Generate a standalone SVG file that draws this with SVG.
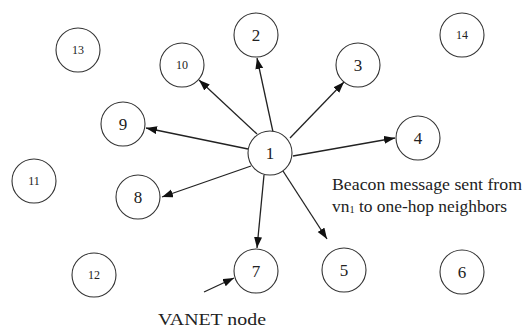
<svg xmlns="http://www.w3.org/2000/svg" width="525" height="331" viewBox="0 0 525 331">
<defs>
<marker id="ah" markerWidth="12" markerHeight="9" refX="11" refY="4" orient="auto" markerUnits="userSpaceOnUse">
<path d="M0,0 L11,4 L0,8 z" fill="#111"/>
</marker>
<style>
.n circle{fill:#fff;stroke:#333;stroke-width:1.1}
.n text{font-family:"Liberation Serif","Times New Roman",serif;fill:#222;text-anchor:middle}
.big{font-size:17px}
.small{font-size:12px}
.c line{stroke:#222;stroke-width:1.3;marker-end:url(#ah)}
.lbl{font-family:"Liberation Serif","Times New Roman",serif;font-size:17px;fill:#222}
</style>
</defs>
<g id="connectors" class="c">
<line x1="273" y1="132" x2="257" y2="58"/>
<line x1="257" y1="134" x2="199" y2="80"/>
<line x1="290" y1="138" x2="344" y2="82"/>
<line x1="248" y1="149" x2="146" y2="128"/>
<line x1="293" y1="156" x2="395" y2="138"/>
<line x1="251" y1="166" x2="162" y2="197"/>
<line x1="264" y1="175" x2="257" y2="248"/>
<line x1="283" y1="171" x2="327" y2="239"/>
<line x1="204" y1="292" x2="234" y2="278"/>
</g>
<g id="node1" class="n"><circle cx="270" cy="153" r="22"/><text class="big" x="270" y="159">1</text></g>
<g id="node2" class="n"><circle cx="256" cy="35" r="22"/><text class="big" x="256" y="41">2</text></g>
<g id="node3" class="n"><circle cx="358" cy="65" r="22"/><text class="big" x="358" y="71">3</text></g>
<g id="node4" class="n"><circle cx="418" cy="138" r="22"/><text class="big" x="418" y="144">4</text></g>
<g id="node5" class="n"><circle cx="344" cy="270" r="22"/><text class="big" x="344" y="276">5</text></g>
<g id="node6" class="n"><circle cx="462" cy="272" r="22"/><text class="big" x="462" y="278">6</text></g>
<g id="node7" class="n"><circle cx="256" cy="271" r="22"/><text class="big" x="256" y="277">7</text></g>
<g id="node8" class="n"><circle cx="138" cy="197" r="22"/><text class="big" x="138" y="203">8</text></g>
<g id="node9" class="n"><circle cx="123" cy="124" r="22"/><text class="big" x="123" y="130">9</text></g>
<g id="node10" class="n"><circle cx="182" cy="65" r="22"/><text class="small" x="182" y="69">10</text></g>
<g id="node11" class="n"><circle cx="34" cy="181" r="22"/><text class="small" x="34" y="185">11</text></g>
<g id="node12" class="n"><circle cx="94" cy="275" r="22"/><text class="small" x="94" y="279">12</text></g>
<g id="node13" class="n"><circle cx="78" cy="50" r="22"/><text class="small" x="78" y="54">13</text></g>
<g id="node14" class="n"><circle cx="462" cy="35" r="22"/><text class="small" x="462" y="39">14</text></g>
<text class="lbl" x="332" y="190" textLength="190" lengthAdjust="spacingAndGlyphs">Beacon message sent from</text>
<text class="lbl" x="332" y="212" textLength="175" lengthAdjust="spacingAndGlyphs">vn<tspan font-size="10" dy="1">1</tspan><tspan dy="-1"> to one-hop neighbors</tspan></text>
<text class="lbl" x="158" y="325" textLength="108" lengthAdjust="spacingAndGlyphs">VANET node</text>
</svg>
